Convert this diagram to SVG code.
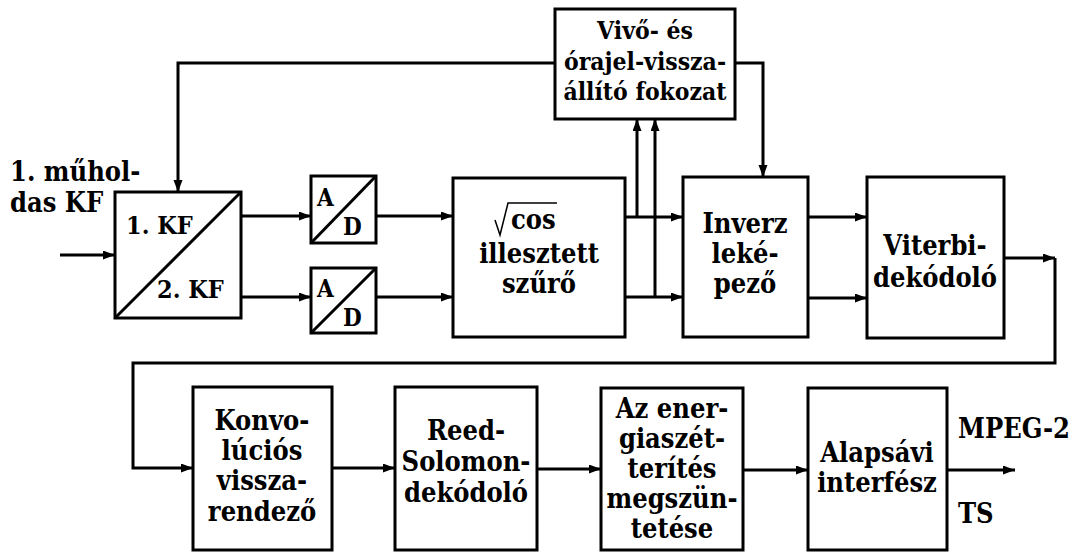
<svg xmlns="http://www.w3.org/2000/svg" width="1075" height="552" viewBox="0 0 1075 552">
<style>
.box{fill:#fff;stroke:#000;stroke-width:3}
.ln{fill:none;stroke:#000;stroke-width:3}
text{font-family:'DejaVu Serif Condensed','DejaVu Serif',serif;font-weight:bold;font-size:27px;fill:#000;text-anchor:middle}
text.l{text-anchor:start}
text.s{font-size:24px}
text.k{font-size:25px}
text.v{font-size:24.5px}
</style>
<defs>
<marker id="ah" markerUnits="userSpaceOnUse" markerWidth="13" markerHeight="10" refX="12" refY="4.5" orient="auto">
<path d="M0,0 L12,4.5 L0,9 z" fill="#000"/>
</marker>
</defs>
<g id="connectors" class="ln" marker-end="url(#ah)">
<path d="M60,255 H115"/>
<path d="M241,216 H311"/>
<path d="M241,297 H311"/>
<path d="M376,216 H453"/>
<path d="M376,297 H453"/>
<path d="M625,217 H683"/>
<path d="M625,297 H683"/>
<path d="M637,217 V119"/>
<path d="M655,297 V119"/>
<path d="M735,63 H763 V177"/>
<path d="M555,63 H178 V192"/>
<path d="M808,217 H867"/>
<path d="M808,298 H867"/>
<path d="M1004,258 H1055"/>
<path d="M1055,258 V363 H133 V468 H193"/>
<path d="M332,468 H395"/>
<path d="M537,469 H601"/>
<path d="M743,470 H808"/>
<path d="M947,470 H1015"/>
</g>
<g id="input-label">
<text class="l" x="10" y="181">1. műhol-</text>
<text class="l" x="10" y="212">das KF</text>
</g>
<g id="kf">
<rect class="box" x="115" y="192" width="126" height="126"/>
<path class="ln" d="M115,318 L241,192"/>
<text class="l k" x="126" y="234">1. KF</text>
<text class="l k" x="157" y="298">2. KF</text>
</g>
<g id="ad1">
<rect class="box" x="311" y="176" width="65" height="67"/>
<path class="ln" d="M311,243 L376,176"/>
<text class="l s" x="317" y="206">A</text>
<text class="l s" x="343" y="235">D</text>
</g>
<g id="ad2">
<rect class="box" x="311" y="268" width="65" height="65"/>
<path class="ln" d="M311,333 L376,268"/>
<text class="l s" x="317" y="297">A</text>
<text class="l s" x="343" y="326">D</text>
</g>
<g id="matched-filter">
<rect class="box" x="453" y="178" width="172" height="159"/>
<path d="M495,220 L500,235 L508,203 H557" fill="none" stroke="#000" stroke-width="1.5"/>
<text class="l" x="511" y="229">cos</text>
<text x="539" y="263">illesztett</text>
<text x="539" y="293">szűrő</text>
</g>
<g id="carrier-recovery">
<rect class="box" x="555" y="9" width="180" height="110"/>
<text class="v" x="645" y="39">Vivő- és</text>
<text class="v" x="645" y="70">órajel-vissza-</text>
<text class="v" x="645" y="100">állító fokozat</text>
</g>
<g id="inverse-mapper">
<rect class="box" x="683" y="177" width="125" height="160"/>
<text x="745" y="233">Inverz</text>
<text x="745" y="263">leké-</text>
<text x="745" y="293">pező</text>
</g>
<g id="viterbi">
<rect class="box" x="867" y="177" width="137" height="161"/>
<text x="935" y="255">Viterbi-</text>
<text x="935" y="287">dekódoló</text>
</g>
<g id="deinterleaver">
<rect class="box" x="193" y="387" width="139" height="163"/>
<text x="262" y="430">Konvo-</text>
<text x="262" y="460">lúciós</text>
<text x="262" y="490">vissza-</text>
<text x="262" y="521">rendező</text>
</g>
<g id="reed-solomon">
<rect class="box" x="395" y="387" width="142" height="163"/>
<text x="466" y="440">Reed-</text>
<text x="466" y="471">Solomon-</text>
<text x="466" y="502">dekódoló</text>
</g>
<g id="energy-dispersal">
<rect class="box" x="601" y="388" width="142" height="162"/>
<text x="672" y="418">Az ener-</text>
<text x="672" y="448">giaszét-</text>
<text x="672" y="478">terítés</text>
<text x="672" y="508">megszün-</text>
<text x="672" y="538">tetése</text>
</g>
<g id="baseband">
<rect class="box" x="808" y="388" width="139" height="162"/>
<text x="877" y="462">Alapsávi</text>
<text x="877" y="492">interfész</text>
</g>
<g id="output-label">
<text class="l" x="958" y="438">MPEG-2</text>
<text class="l" x="958" y="523">TS</text>
</g>
</svg>
